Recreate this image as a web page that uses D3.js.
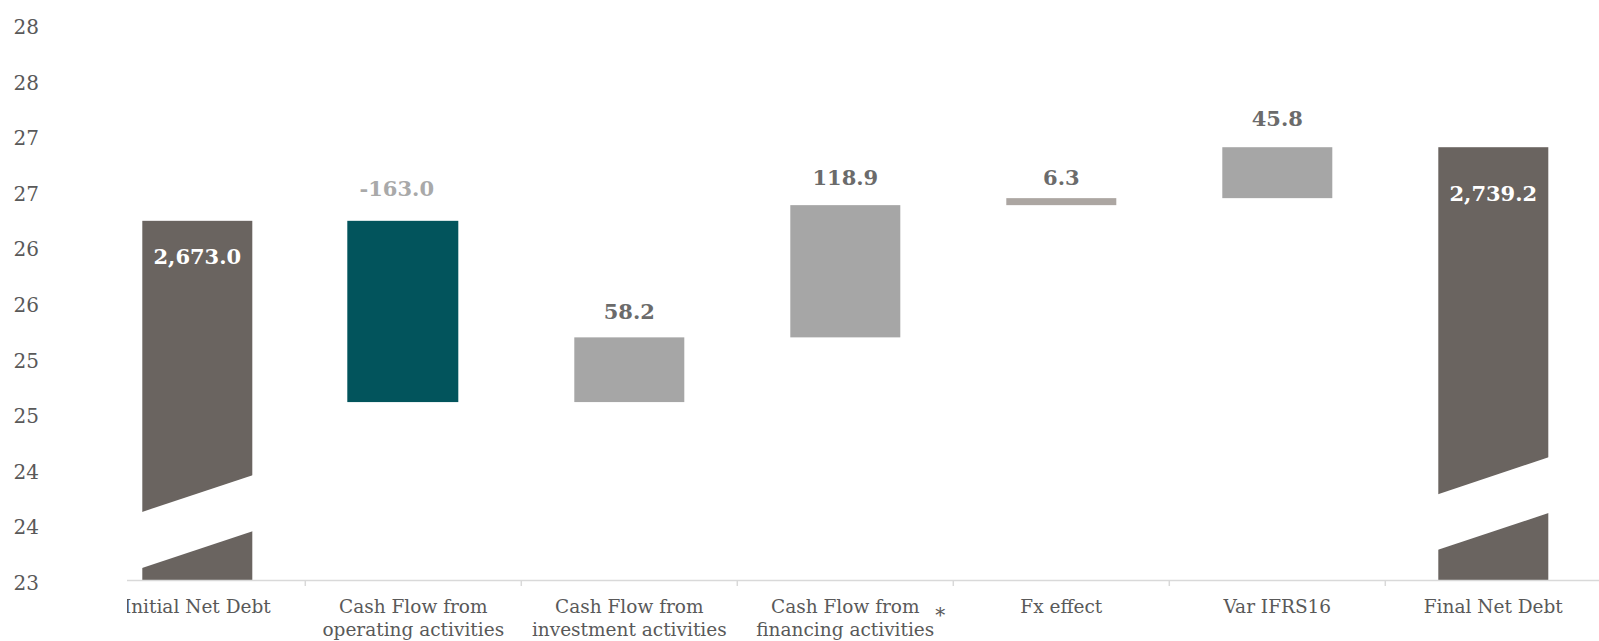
<!DOCTYPE html>
<html>
<head>
<meta charset="utf-8">
<script src="https://cdn.jsdelivr.net/npm/d3@7/dist/d3.min.js"></script>
<style>
  html, body { margin: 0; padding: 0; background: #fff; }
  svg { display: block; }
</style>
</head>
<body>
<svg id="chart" width="1599" height="641"></svg>
<script>
// ---- data ----
const categories = [
  "Initial Net Debt",
  "Cash Flow from operating activities",
  "Cash Flow from investment activities",
  "Cash Flow from financing activities",
  "Fx effect",
  "Var IFRS16",
  "Final Net Debt"
];
const categoryLines = [
  ["Initial Net Debt"],
  ["Cash Flow from", "operating activities"],
  ["Cash Flow from", "investment activities"],
  ["Cash Flow from", "financing activities"],
  ["Fx effect"],
  ["Var IFRS16"],
  ["Final Net Debt"]
];
const kinds = ["total", "delta", "delta", "delta", "delta", "delta", "total"];
const values = [2673.0, -163.0, 58.2, 118.9, 6.3, 45.8, 2739.2];
const valueLabels = ["2,673.0", "-163.0", "58.2", "118.9", "6.3", "45.8", "2,739.2"];
const yTickValues = [2350, 2400, 2450, 2500, 2550, 2600, 2650, 2700, 2750, 2800, 2850];
const yTickLabels = ["23", "24", "24", "25", "25", "26", "26", "27", "27", "28", "28"];
// axis-break bands on the two total bars (value at left / right edge of the lower cut, gap size)
const breakLowLeft = [2360.5, null, null, null, null, null, 2377];
const breakLowRight = [2394, null, null, null, null, null, 2410.5];
const breakGap = [50.5, null, null, null, null, null, 50];
const footnoteMark = "*";

// ---- styles ----
const barColors = ["#6a6460", "#02545c", "#a6a6a6", "#a6a6a6", "#aca6a2", "#a6a6a6", "#6a6460"];
const labelColors = ["#ffffff", "#a9a9a9", "#6b6b6b", "#6b6b6b", "#6b6b6b", "#6b6b6b", "#ffffff"];
const labelDy = [36, -32, -26, -28, -21, -29, 46];
const labelDx = [0, -6, 0, 0, 0, 0, 0];
const barWidth = 110;
const FONT = "'DejaVu Serif', 'Liberation Serif', serif";
const textGray = "#595959";

// ---- layout via scales ----
const svg = d3.select("#chart");
const x = d3.scaleBand().domain(categories).range([89.3, 1601.3]).padding(0);
const y = d3.scaleLinear().domain([2350, 2850]).range([580, 24]);

// waterfall geometry
let running = 0;
const bars = categories.map((c, i) => {
  let lo, hi;
  if (kinds[i] === "total") { lo = 2350; hi = values[i]; running = values[i]; }
  else { const s = running; const e = running + values[i]; lo = Math.min(s, e); hi = Math.max(s, e); running = e; }
  let x0 = x(c) + (x.bandwidth() - barWidth) / 2, w = barWidth;
  if (i === 1) { x0 = x(c) + 42; w = 111; } // left-shifted operating bar
  return { c, i, lo, hi, x0, w };
});

const defs = svg.append("defs");
defs.append("clipPath").attr("id", "plotClip")
  .append("rect").attr("x", 127).attr("y", 0).attr("width", 1472).attr("height", 641);

// y tick labels
svg.append("g").selectAll("text").data(yTickValues).join("text")
  .attr("x", 39).attr("y", d => y(d) + 3)
  .attr("text-anchor", "end").attr("dominant-baseline", "central")
  .attr("font-family", FONT).attr("font-size", 20).attr("fill", textGray)
  .text((d, i) => yTickLabels[i]);

// bars
svg.append("g").selectAll("rect").data(bars).join("rect")
  .attr("x", d => d.x0).attr("width", d => d.w)
  .attr("y", d => y(d.hi)).attr("height", d => y(d.lo) - y(d.hi))
  .attr("fill", d => barColors[d.i]);

// axis-break white bands
svg.append("g").selectAll("path").data(bars.filter(d => breakLowLeft[d.i] != null)).join("path")
  .attr("d", d => {
    const l = breakLowLeft[d.i], r = breakLowRight[d.i], g = breakGap[d.i];
    const xa = d.x0 - 1, xb = d.x0 + d.w + 1;
    return `M${xa},${y(l)} L${xb},${y(r)} L${xb},${y(r + g)} L${xa},${y(l + g)} Z`;
  })
  .attr("fill", "#ffffff");

// value labels
svg.append("g").selectAll("text").data(bars).join("text")
  .attr("x", d => d.x0 + d.w / 2 + labelDx[d.i])
  .attr("y", d => y(d.hi) + labelDy[d.i])
  .attr("text-anchor", "middle").attr("dominant-baseline", "central")
  .attr("font-family", FONT).attr("font-size", 21).attr("font-weight", "bold")
  .attr("fill", d => labelColors[d.i])
  .text(d => valueLabels[d.i]);

// x axis
const ax = svg.append("g").attr("clip-path", "url(#plotClip)");
ax.append("line").attr("x1", 127).attr("x2", 1599).attr("y1", 580.5).attr("y2", 580.5)
  .attr("stroke", "#d9d9d9").attr("stroke-width", 1.5);
ax.append("g").selectAll("line").data(categories.slice(1)).join("line")
  .attr("x1", d => x(d)).attr("x2", d => x(d)).attr("y1", 580).attr("y2", 586)
  .attr("stroke", "#d9d9d9").attr("stroke-width", 1.5);

const lab = ax.append("g").selectAll("text").data(categories).join("text")
  .attr("x", d => x(d) + x.bandwidth() / 2).attr("y", 613)
  .attr("text-anchor", "middle")
  .attr("font-family", FONT).attr("font-size", 18.5).attr("fill", textGray);
lab.selectAll("tspan").data((d, i) => categoryLines[i]).join("tspan")
  .attr("x", function () { return d3.select(this.parentNode).attr("x"); })
  .attr("dy", (d, j) => j === 0 ? 0 : 23)
  .text(d => d);

// footnote asterisk next to financing label
svg.append("text")
  .attr("x", x(categories[3]) + x.bandwidth() / 2 + 95).attr("y", 622)
  .attr("text-anchor", "middle")
  .attr("font-family", FONT).attr("font-size", 20).attr("fill", textGray)
  .text(footnoteMark);
</script>
</body>
</html>
